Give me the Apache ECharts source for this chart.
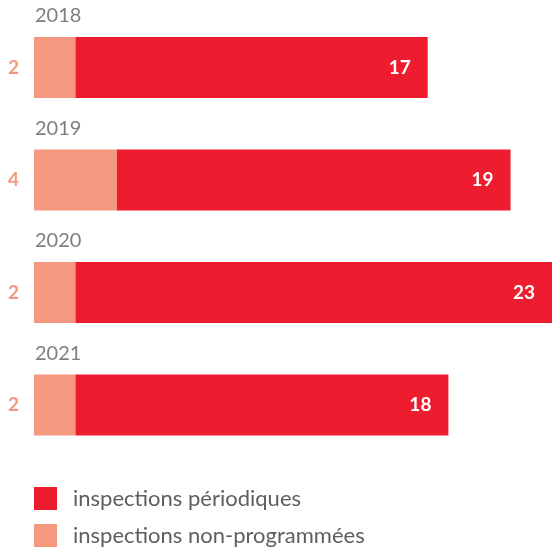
<!DOCTYPE html>
<html><head><meta charset="utf-8">
<script src="https://cdn.jsdelivr.net/npm/echarts@6/dist/echarts.min.js"></script>
<style>html,body{margin:0;padding:0;background:#fff}#c{width:552px;height:553px}</style>
</head><body><div id="c"></div>
<script>
const years = ['2018', '2019', '2020', '2021'];
const nonProgrammees = [2, 4, 2, 2];
const periodiques = [17, 19, 23, 18];
const seriesNames = ['inspections périodiques', 'inspections non-programmées'];

const RED = '#ED1C2E', SALMON = '#F4987F', GRAY = '#5E5E5E';
const FONT = 'Lato';
const chart = echarts.init(document.getElementById('c'), null, {renderer: 'canvas'});
const legendBase = {
  orient: 'vertical', left: 34, itemWidth: 23, itemHeight: 23, padding: 0,
  icon: 'rect', selectedMode: false,
  textStyle: {fontSize: 22, color: GRAY, fontFamily: FONT, padding: [0, 0, 0, 11]}
};
chart.setOption({
  animation: false,
  textStyle: {fontFamily: FONT},
  grid: {left: 34, right: 0, top: 11.25, height: 450, containLabel: false},
  xAxis: {type: 'value', min: 0, max: 25, show: false},
  yAxis: {
    type: 'category', data: years, inverse: true, show: false
  },
  legend: [
    Object.assign({}, legendBase, {top: 487, data: [seriesNames[0]]}),
    Object.assign({}, legendBase, {top: 524, data: [seriesNames[1]]})
  ],
  series: [
    {
      name: seriesNames[1], type: 'bar', stack: 't', barWidth: 61,
      data: nonProgrammees, itemStyle: {color: SALMON},
      label: {show: true, position: 'left', distance: 15, color: SALMON,
        fontWeight: 'bold', fontSize: 19, fontFamily: FONT}
    },
    {
      name: seriesNames[0], type: 'bar', stack: 't', barWidth: 61,
      data: periodiques, itemStyle: {color: RED},
      label: {show: true, position: 'insideRight', distance: 17, color: '#fff',
        fontWeight: 'bold', fontSize: 19, fontFamily: FONT}
    },
    {
      name: 'years', type: 'scatter', symbolSize: 0, silent: true,
      data: years.map(y => [0, y]),
      label: {show: true, position: 'right', distance: 1, offset: [0, -51.5],
        formatter: p => p.value[1], fontSize: 20, color: GRAY, fontFamily: FONT}
    }
  ]
});
</script></body></html>
